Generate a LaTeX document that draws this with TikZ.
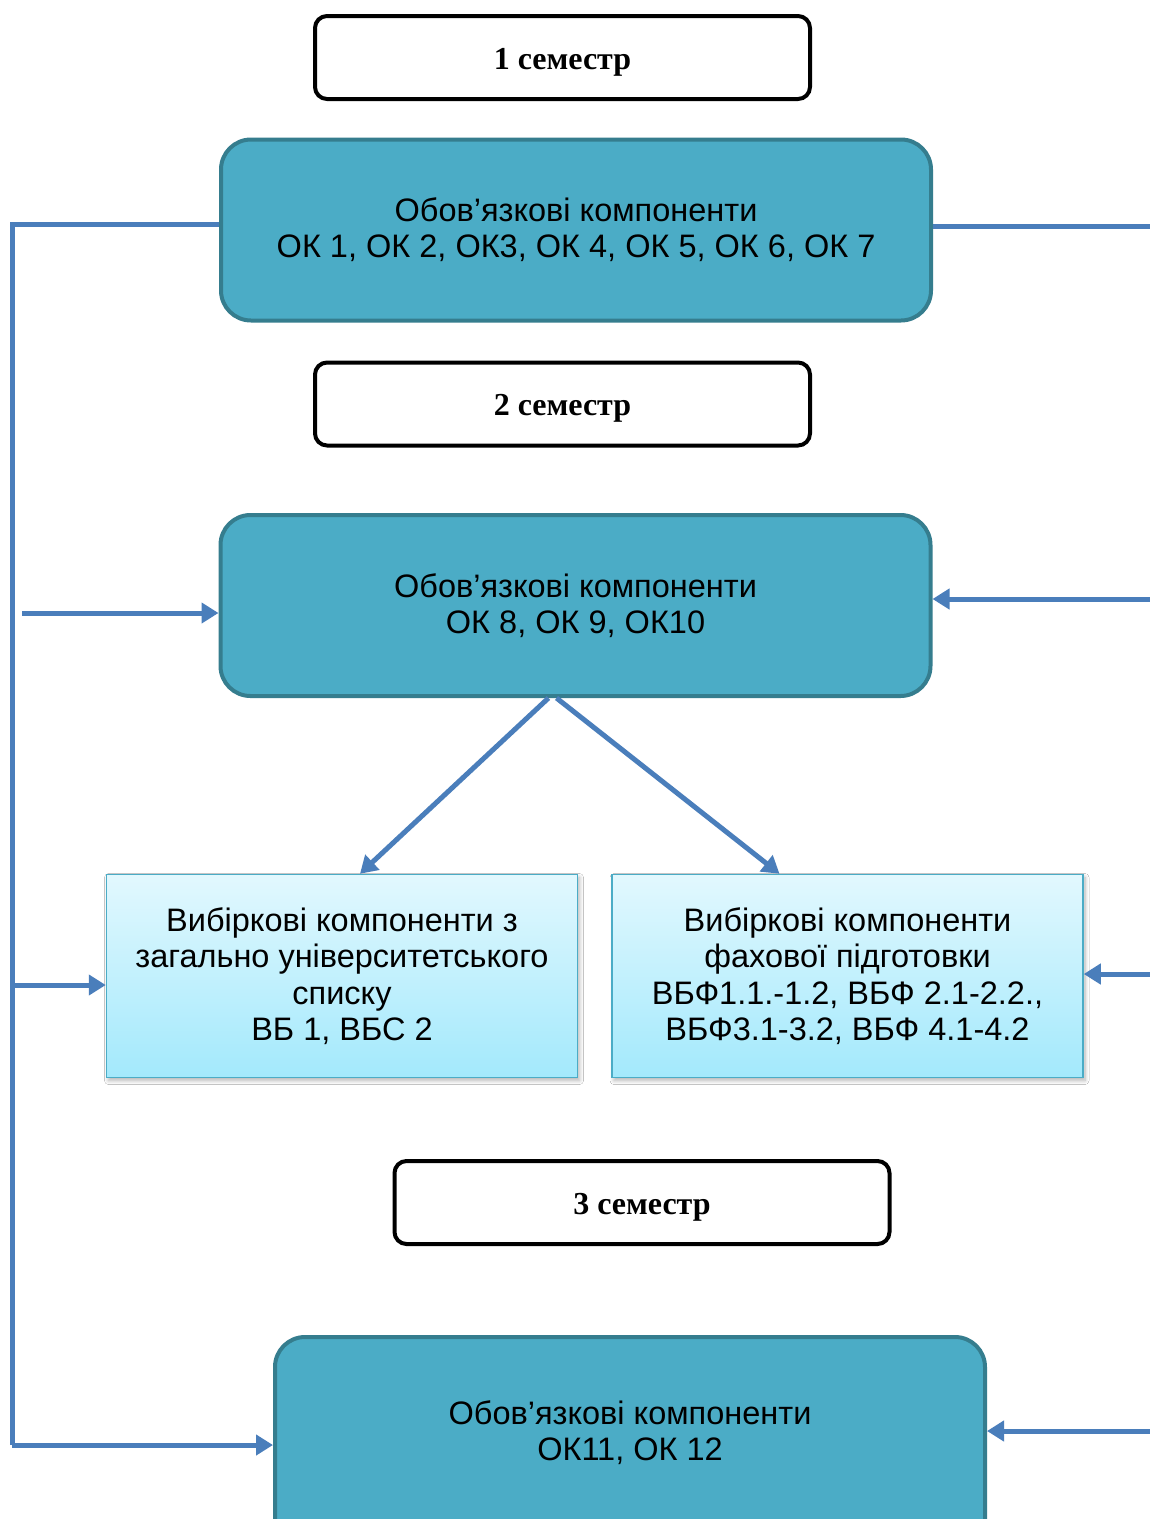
\documentclass[tikz,border=0pt]{standalone}
\usepackage{fontspec}
\setmainfont{Liberation Serif}
\setsansfont{Liberation Sans}
\usetikzlibrary{arrows.meta,shadows.blur,calc}
\definecolor{teal1}{HTML}{4BACC6}
\definecolor{teal2}{HTML}{357D8E}
\definecolor{arr}{HTML}{4A7EBB}
\definecolor{vbtop}{HTML}{E2F8FE}
\definecolor{vbbot}{HTML}{A3E9FC}
\definecolor{vbline}{HTML}{4BACC6}
\tikzset{
  sembox/.style={draw=black,line width=4pt,rounded corners=12pt,fill=white,
    minimum width=495pt,minimum height=83pt,inner sep=0pt,
    text height=23.6pt,text depth=0pt,
    font=\rmfamily\bfseries\fontsize{32}{36}\selectfont},
  okbox/.style={draw=teal2,fill=teal1,line width=4pt,rounded corners=30pt,
    minimum width=710pt,minimum height=181pt,inner sep=0pt,align=center,
    font=\sffamily\fontsize{32.5}{36}\selectfont},
  vbbox/.style={draw=vbline,line width=1.5pt,top color=vbtop,bottom color=vbbot,
    minimum width=471pt,minimum height=203pt,inner sep=0pt,align=center,
    blur shadow={shadow xshift=2pt,shadow yshift=-3pt,shadow blur steps=8,shadow blur radius=4pt,shadow opacity=30},
    font=\sffamily\fontsize{32.5}{36.3}\selectfont},
  conn/.style={draw=arr,line width=5pt},
  arrw/.style={conn,-{Triangle[length=17pt,width=20pt]}},
  lbl/.style={inner sep=0pt,align=center,font=\sffamily\fontsize{32.5}{36}\selectfont}
}
\begin{document}
\begin{tikzpicture}[x=1pt,y=-1pt]
\useasboundingbox (0,0) rectangle (1150,1519);
\fill[white] (0,0) rectangle (1150,1519);
\node[sembox] (s1) at (562.5,57.5) {1 семестр};
\node[okbox] (b1) at (576,230) {Обов’язкові компоненти\\ОК 1, ОК 2, ОК3, ОК 4, ОК 5, ОК 6, ОК 7};
\node[sembox] (s2) at (562.5,404) {2 семестр};
\node[okbox] (b2) at (575.5,605.5) {Обов’язкові компоненти\\ОК 8, ОК 9, ОК10};
\node[vbbox] (vl) at (342,976) {Вибіркові компоненти з\\загально університетського\\списку\\ВБ 1, ВБС 2};
\node[vbbox] (vr) at (847.5,976) {Вибіркові компоненти\\фахової підготовки\\ВБФ1.1.-1.2, ВБФ 2.1-2.2.,\\ВБФ3.1-3.2, ВБФ 4.1-4.2};
\node[sembox] (s3) at (642,1202.5) {3 семестр};
\node[okbox,minimum height=230pt] (b3) at (630,1452) {};
\node[lbl] (b3t) at (630,1433) {Обов’язкові компоненти\\ОК11, ОК 12};
% left bus
\coordinate (ltop) at (12,224);
\coordinate (lbot) at (12,1445);
\coordinate (l2) at (22,613);
\coordinate (lv) at (12,985);
\draw[conn] (b1.west |- ltop) -- (ltop) -- (lbot);
\draw[arrw] (lbot) -- (lbot -| b3.west);
\draw[arrw] (l2) -- (l2 -| b2.west);
\draw[arrw] (lv) -- (lv -| vl.west);
% right lines
\coordinate (rtop) at (1152,226);
\coordinate (r2) at (1152,599);
\coordinate (rv) at (1152,974);
\coordinate (r3) at (1152,1431);
\draw[conn] (rtop -| b1.east) -- (rtop);
\draw[arrw] (r2) -- (r2 -| b2.east);
\draw[arrw] (rv) -- (rv -| vr.east);
\draw[arrw] (r3) -- (r3 -| b3.east);
% diagonals
\draw[arrw] ([xshift=-27pt]b2.south) -- ([xshift=18pt]vl.north);
\draw[arrw] ([xshift=-19pt]b2.south) -- ([xshift=-68pt]vr.north);
\end{tikzpicture}
\end{document}
